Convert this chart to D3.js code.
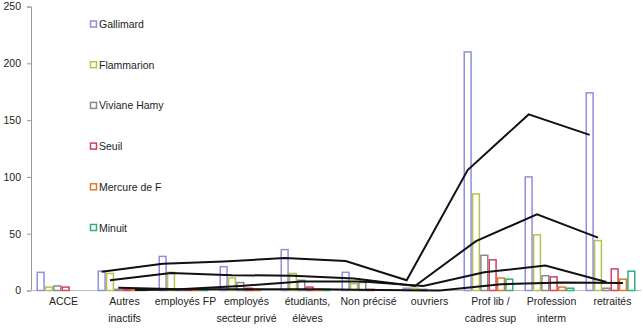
<!DOCTYPE html>
<html><head><meta charset="utf-8">
<script src="https://cdn.jsdelivr.net/npm/d3@7"></script>
<style>body{margin:0;background:#fff;} text{font-family:"Liberation Sans",Arial,sans-serif;fill:#222;}</style>
</head><body>
<svg id="c" width="643" height="335"></svg>
<script>
const categories = ["ACCE", "Autres\ninactifs", "employés FP", "employés\nsecteur privé", "étudiants,\nélèves", "Non précisé", "ouvriers", "Prof lib /\ncadres sup", "Profession\ninterm", "retraités"];
const seriesNames = ["Gallimard", "Flammarion", "Viviane Hamy", "Seuil", "Mercure de F", "Minuit"];
const gallimard   = [16, 17, 30, 21, 36, 16, 2, 210, 100, 174];
const flammarion  = [3, 15, 16, 11, 15, 6, 2, 85, 49, 44];
const vivianeHamy = [4, 1, 1, 7, 9, 7, 1, 31, 13, 2];
const seuil       = [3, 1, 1, 2, 3, 1, 0, 27, 12, 19];
const mercure     = [0, 1, 1, 1, 1, 0, 0, 11, 3, 10];
const minuit      = [0, 1, 1, 0, 1, 0, 0, 10, 2, 17];
const yTicks = [0, 50, 100, 150, 200, 250];
const trendSeries = ["Gallimard", "Flammarion", "Viviane Hamy", "Mercure de F"]; // 2-period moving average trendlines
const colors = ["#8f8fe0", "#b7c24e", "#8a8a8a", "#d2405e", "#d97a2c", "#2fb07a"];

const values = [gallimard, flammarion, vivianeHamy, seuil, mercure, minuit];
const svg = d3.select("#c");
const L = 31, R = 641, T = 6.5, B = 290.5;
const y = d3.scaleLinear().domain([0, 250]).range([B, T]);
const x0 = d3.scaleBand().domain(d3.range(categories.length)).range([L, R]).paddingInner(0.18).paddingOuter(0.09);
const x1 = d3.scaleBand().domain(seriesNames).range([0, x0.bandwidth()]);

// y axis
const ya = svg.append("g").attr("transform", `translate(${L},0)`)
  .call(d3.axisLeft(y).tickValues(yTicks).tickSize(4).tickPadding(6));
ya.select(".domain").attr("stroke", "#999");
ya.selectAll(".tick line").attr("stroke", "#999");
ya.selectAll("text").style("font-size", "10.5px").attr("fill", "#222");

// x baseline
svg.append("line").attr("x1", L).attr("x2", R).attr("y1", y(0)).attr("y2", y(0)).attr("stroke", "#bbb");

// bars
seriesNames.forEach((s, si) => {
  svg.append("g").selectAll("rect").data(values[si]).join("rect")
    .attr("x", (d, i) => x0(i) + x1(s) + 0.75)
    .attr("y", d => y(d))
    .attr("width", x1.bandwidth() - 1.5)
    .attr("height", d => y(0) - y(d))
    .attr("fill", "#fff").attr("fill-opacity", 0)
    .attr("stroke", colors[si]).attr("stroke-width", 1.5);
});

// trendlines (moving average, period 2)
const line = d3.line().x(d => d[0]).y(d => d[1]);
trendSeries.forEach(s => {
  const si = seriesNames.indexOf(s);
  const v = values[si];
  const pts = [];
  for (let i = 1; i < v.length; i++) pts.push([x0(i) + x1(s) + x1.bandwidth() / 2, y((v[i - 1] + v[i]) / 2)]);
  svg.append("path").attr("d", line(pts)).attr("fill", "none").attr("stroke", "#111").attr("stroke-width", 2);
});

// category labels
categories.forEach((c, i) => {
  const cx = x0(i) + x0.bandwidth() / 2 + 2;
  const t = svg.append("text").attr("x", cx).attr("y", 305)
    .attr("text-anchor", "middle").style("font-size", "10.5px");
  c.split("\n").forEach((ln, k) => t.append("tspan").attr("x", cx).attr("dy", k ? 17 : 0).text(ln));
});

// legend
seriesNames.forEach((s, si) => {
  const ly = 24 + si * 40.7;
  svg.append("rect").attr("x", 90.5).attr("y", ly - 3).attr("width", 6).attr("height", 6)
    .attr("fill", "#fff").attr("stroke", colors[si]).attr("stroke-width", 1.5);
  svg.append("text").attr("x", 99).attr("y", ly + 4).style("font-size", "10.5px").text(s);
});
</script>
</body></html>
